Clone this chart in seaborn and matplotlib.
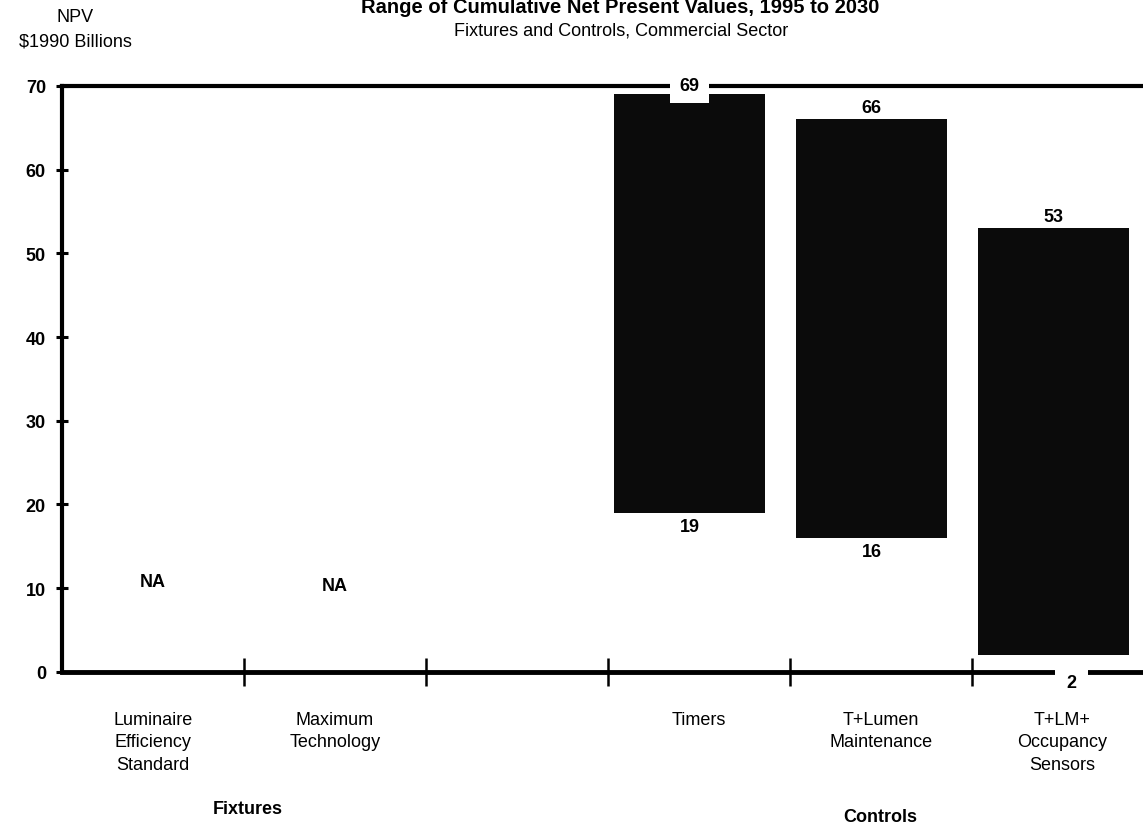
import matplotlib
matplotlib.use("Agg")
import matplotlib.pyplot as plt
import seaborn as sns
import numpy as np

# ---- data ----
categories = ["Luminaire\nEfficiency\nStandard", "Maximum\nTechnology", "",
              "Timers", "T+Lumen\nMaintenance", "T+LM+\nOccupancy\nSensors"]
bar_categories = ["Timers", "T+Lumen\nMaintenance", "T+LM+\nOccupancy\nSensors"]
npv_high = [69, 66, 53]
npv_low = [19, 16, 2]
na_categories = ["Luminaire\nEfficiency\nStandard", "Maximum\nTechnology"]
na_values = [10, 9.5]
y_ticks = [0, 10, 20, 30, 40, 50, 60, 70]
group_labels = ["Fixtures", "Controls"]

sns.set_theme(style="white")
plt.rcParams["font.family"] = ["Liberation Sans", "DejaVu Sans"]
plt.rcParams["text.color"] = "black"
plt.rcParams["xtick.color"] = "black"
plt.rcParams["ytick.color"] = "black"
plt.rcParams["xtick.labelcolor"] = "black"
plt.rcParams["ytick.labelcolor"] = "black"

fig = plt.figure(figsize=(11.43, 8.28), dpi=100)
ax = fig.add_axes([0.0542, 0.1875, 0.955, 0.7075])

cat_index = {c: i for i, c in enumerate(categories)}
bar_x = [cat_index[c] + 0.45 for c in bar_categories]
heights = [h - l for h, l in zip(npv_high, npv_low)]

sns.barplot(x=bar_x, y=heights, native_scale=True, width=0.83,
            color="#0b0b0b", saturation=1, ax=ax, errorbar=None, linewidth=0)
for p, low in zip(ax.patches, npv_low):
    p.set_y(low)

FS = 13

# value labels
for x, hi, lo in zip(bar_x, npv_high, npv_low):
    if hi >= 68:
        ax.text(x, hi + 1.1, f"{hi}", ha="center", va="center", fontsize=FS,
                fontweight="bold", color="black",
                bbox=dict(facecolor="white", edgecolor="none", pad=7), zorder=5,
                clip_on=False)
    else:
        ax.text(x, hi + 0.4, f"{hi}", ha="center", va="bottom", fontsize=FS,
                fontweight="bold", color="black")
    if lo <= 3:
        ax.text(x + 0.1, -1.3, f"{lo}", ha="center", va="center", fontsize=FS,
                fontweight="bold", color="black",
                bbox=dict(facecolor="white", edgecolor="none", pad=8), zorder=5,
                clip_on=False)
    else:
        ax.text(x, lo - 0.6, f"{lo}", ha="center", va="top", fontsize=FS,
                fontweight="bold", color="black")

for c, v in zip(na_categories, na_values):
    ax.text(cat_index[c] + 0.5, v + 0.8, "NA", ha="center", va="center",
            fontsize=FS, fontweight="bold", color="black")

ax.set_xlim(0, 6)
ax.set_ylim(0, 70)
ax.set_yticks(y_ticks)
ax.set_yticklabels([str(t) for t in y_ticks], fontsize=FS, fontweight="bold")

ax.set_xticks([1, 2, 3, 4, 5])
ax.set_xticklabels([])
ax.set_xticks([i + 0.5 for i in range(len(categories))], minor=True)
ax.set_xticklabels(categories, minor=True, fontsize=FS)
ax.tick_params(axis="x", which="minor", bottom=True, length=0, pad=28)
ax.tick_params(axis="x", which="major", bottom=True, direction="inout",
               length=20, width=1.8, color="black")
ax.tick_params(axis="y", left=True, direction="inout", length=9, width=2.2,
               color="black", pad=7)
for lab in ax.get_xticklabels(minor=True):
    lab.set_va("top")
    lab.set_linespacing(1.45)

for s in ["left", "bottom", "top"]:
    ax.spines[s].set_visible(True)
    ax.spines[s].set_color("black")
ax.spines["left"].set_linewidth(3)
ax.spines["bottom"].set_linewidth(3.5)
ax.spines["top"].set_linewidth(3)
ax.spines["right"].set_visible(False)
ax.set_xlabel("")
ax.set_ylabel("")

# group labels
ax.text(1.02, -16.4, group_labels[0], ha="center", va="center", fontsize=FS,
        fontweight="bold", clip_on=False)
ax.text(4.5, -17.3, group_labels[1], ha="center", va="center", fontsize=FS,
        fontweight="bold", clip_on=False)

# axis title
fig.text(0.0656, 0.979, "NPV", ha="center", va="center", fontsize=FS)
fig.text(0.0656, 0.949, "$1990 Billions", ha="center", va="center", fontsize=FS)

# titles
fig.text(0.543, 0.9845, "Range of Cumulative Net Present Values, 1995 to 2030",
         ha="center", va="baseline", fontsize=14.5, fontweight="bold")
fig.text(0.543, 0.963, "Fixtures and Controls, Commercial Sector",
         ha="center", va="center", fontsize=FS)

fig.savefig("out.png", dpi=100)
